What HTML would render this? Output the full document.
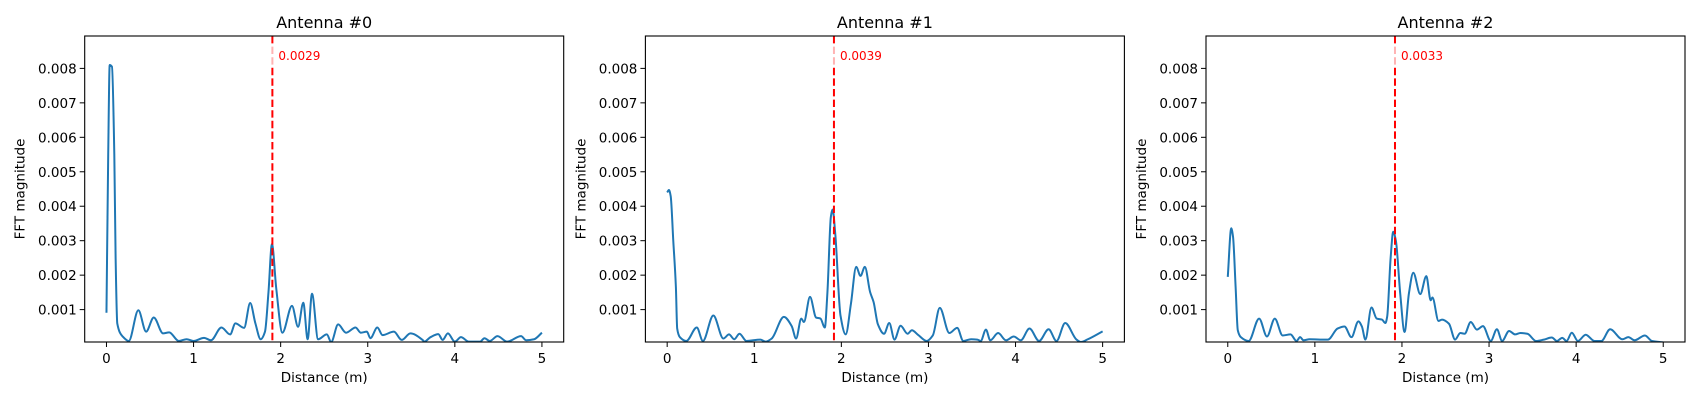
<!DOCTYPE html>
<html><head><meta charset="utf-8"><style>
body{margin:0;background:#fff;}
svg{display:block;font-family:"DejaVu Sans","Liberation Sans",sans-serif;}
</style></head><body>
<svg id="fig" width="1698" height="400" viewBox="0 0 1698 400" xmlns="http://www.w3.org/2000/svg"></svg>
<script>
const titles = ["Antenna #0","Antenna #1","Antenna #2"];
const peakX = [1.905, 1.915, 1.92];
const peakLabels = ["0.0029","0.0039","0.0033"];
const xTicks = [0,1,2,3,4,5];
const yTicks = [0.001,0.002,0.003,0.004,0.005,0.006,0.007,0.008];
const yTickLabels = ["0.001","0.002","0.003","0.004","0.005","0.006","0.007","0.008"];
const dist0 = [0,0.02,0.037,0.063,0.09,0.105,0.124,0.19,0.256,0.366,0.455,0.543,0.65,0.72,0.83,0.92,1.0,1.12,1.2,1.32,1.42,1.48,1.58,1.65,1.71,1.77,1.82,1.86,1.9,1.95,2.02,2.13,2.2,2.26,2.31,2.36,2.43,2.53,2.58,2.66,2.75,2.86,2.92,2.99,3.03,3.11,3.17,3.3,3.39,3.49,3.63,3.65,3.72,3.81,3.86,3.92,4.0,4.07,4.16,4.29,4.34,4.4,4.49,4.6,4.76,4.82,4.91,5.0];
const mag0 = [0.00091,0.0055,0.0081,0.00805,0.0055,0.0025,0.0006,0.00021,0.00009,0.00098,0.00036,0.00077,0.00031,0.00034,0.00009,0.00014,0.00009,0.00018,0.00011,0.00048,0.00028,0.0006,0.00047,0.00119,0.0006,0.00014,0.00036,0.0015,0.0029,0.0016,0.00033,0.00111,0.0005,0.0012,0.00014,0.00146,0.00014,0.00028,0.00006,0.00057,0.00033,0.00048,0.00033,0.00036,0.00017,0.00048,0.00026,0.00036,0.00012,0.00031,0.00012,0.00007,0.0002,0.00029,0.00012,0.00031,0.00007,0.0002,0.00007,0.00007,0.00017,0.00009,0.00023,0.00007,0.00023,0.00011,0.00014,0.00033];
const dist1 = [0,0.02,0.04,0.07,0.1,0.115,0.146,0.22,0.34,0.41,0.53,0.645,0.71,0.77,0.83,0.91,1.07,1.13,1.2,1.34,1.43,1.48,1.54,1.57,1.64,1.71,1.76,1.81,1.84,1.88,1.9,1.93,1.99,2.05,2.11,2.17,2.22,2.27,2.33,2.37,2.42,2.49,2.55,2.61,2.68,2.76,2.81,2.88,2.98,3.05,3.13,3.24,3.33,3.4,3.49,3.56,3.6,3.66,3.71,3.8,3.89,3.98,4.06,4.16,4.27,4.38,4.47,4.57,4.7,4.75,4.83,5.0];
const mag1 = [0.0044,0.00447,0.0043,0.003,0.00166,0.00045,0.0002,0.00009,0.00048,0.00009,0.00083,0.00016,0.00028,0.00014,0.0003,0.00009,0.00013,0.00007,0.00016,0.00079,0.00052,0.00016,0.00074,0.00064,0.00137,0.00077,0.00074,0.00048,0.0015,0.0037,0.0039,0.0032,0.00083,0.00028,0.00117,0.00224,0.00198,0.00224,0.00151,0.00122,0.00057,0.0003,0.00061,0.00013,0.00053,0.0003,0.0004,0.00027,0.00009,0.00025,0.00105,0.00032,0.00047,0.00009,0.00014,0.00013,0.00009,0.00042,0.00011,0.00032,0.00011,0.00022,0.00011,0.00045,0.00009,0.00043,0.00009,0.00061,0.00013,0.00006,0.00014,0.00037];
const dist2 = [0,0.04,0.06,0.09,0.115,0.15,0.24,0.36,0.45,0.54,0.63,0.72,0.79,0.83,0.87,0.94,1.06,1.15,1.26,1.34,1.42,1.5,1.54,1.58,1.65,1.71,1.77,1.81,1.83,1.87,1.9,1.93,1.98,2.03,2.08,2.13,2.21,2.28,2.33,2.35,2.42,2.46,2.54,2.61,2.67,2.72,2.79,2.86,2.93,3.02,3.09,3.15,3.23,3.3,3.36,3.44,3.54,3.63,3.72,3.78,3.84,3.89,3.95,4.02,4.11,4.21,4.29,4.39,4.53,4.6,4.67,4.79,4.87,5.0];
const mag2 = [0.00195,0.00336,0.00312,0.00166,0.0004,0.0002,0.00009,0.00074,0.00022,0.00074,0.00025,0.00028,0.00009,0.0002,0.00011,0.00014,0.00013,0.00013,0.00045,0.00051,0.0002,0.00066,0.00051,0.00013,0.00106,0.00074,0.00071,0.00061,0.00079,0.0025,0.00326,0.003,0.00147,0.00035,0.00147,0.00207,0.00145,0.00197,0.00127,0.00135,0.00067,0.00071,0.00059,0.00013,0.00032,0.0003,0.00064,0.00042,0.00052,0.00009,0.00043,0.00009,0.00038,0.00028,0.00032,0.0003,0.00009,0.00013,0.00019,0.00009,0.00018,0.00009,0.00033,0.00009,0.00027,0.00009,0.00009,0.00043,0.00014,0.0002,0.00011,0.00025,0.00009,0.00005];
const dists = [dist0, dist1, dist2];
const mags = [mag0, mag1, mag2];

const NS = "http://www.w3.org/2000/svg";
const svg = document.getElementById("fig");
const axLeft = [84.7, 645.4, 1206];
const axW = 479, axTop = 36, axH = 306;
const xMin = -0.25, xMax = 5.25, yMin = 0.00006, yMax = 0.00894;
function mk(tag, attrs, parent){const e=document.createElementNS(NS,tag);for(const k in attrs)e.setAttribute(k,attrs[k]);(parent||svg).appendChild(e);return e;}

function monotonePath(pts){
  const n=pts.length, dx=[], s=[], m=new Array(n);
  for(let i=0;i<n-1;i++){dx[i]=pts[i+1][0]-pts[i][0]; s[i]=(pts[i+1][1]-pts[i][1])/dx[i];}
  m[0]=s[0]; m[n-1]=s[n-2];
  for(let i=1;i<n-1;i++){
    if(s[i-1]*s[i]<=0) m[i]=0;
    else { const w1=2*dx[i]+dx[i-1], w2=dx[i]+2*dx[i-1]; m[i]=(w1+w2)/(w1/s[i-1]+w2/s[i]); }
  }
  let d="M"+pts[0][0].toFixed(2)+","+pts[0][1].toFixed(2);
  for(let i=0;i<n-1;i++){
    const h=dx[i]/3;
    d+=" C"+(pts[i][0]+h).toFixed(2)+","+(pts[i][1]+m[i]*h).toFixed(2)+" "+(pts[i+1][0]-h).toFixed(2)+","+(pts[i+1][1]-m[i+1]*h).toFixed(2)+" "+pts[i+1][0].toFixed(2)+","+pts[i+1][1].toFixed(2);
  }
  return d;
}

for (let p=0;p<3;p++){
  const L = axLeft[p];
  const sx = v => L + (v - xMin)/(xMax - xMin)*axW;
  const sy = v => axTop + (yMax - v)/(yMax - yMin)*axH;
  const g = mk("g",{});
  
  
  const cp = mk("clipPath",{id:"clip"+p},g);
  mk("rect",{x:L,y:axTop,width:axW,height:axH},cp);
  const xs = dists[p], ys = mags[p];
  const pts = xs.map((x,i)=>[sx(x), sy(ys[i])]);
  const line = mk("path",{d:monotonePath(pts),fill:"none",stroke:"#1f77b4","stroke-width":2,"stroke-linejoin":"round","clip-path":"url(#clip"+p+")"},g);
  
  
  const px = sx(peakX[p]);
  const vl = mk("line",{x1:px,y1:axTop,x2:px,y2:axTop+axH,stroke:"#ff0000","stroke-width":2,"stroke-dasharray":"7.4,3.2"},g);
  
  
  mk("rect",{x:px-1.5,y:46,width:46,height:19,fill:"#fff","fill-opacity":0.7},g);
  const pt = mk("text",{x:px+6,y:60,fill:"#ff0000","font-size":"12px"},g);
  pt.textContent = peakLabels[p];
  
  
  const fr = mk("rect",{x:L,y:axTop,width:axW,height:axH,fill:"none",stroke:"#000","stroke-width":1.1},g);
  
  
  xTicks.forEach(t=>{
    const x=sx(t);
    mk("line",{x1:x,y1:axTop+axH,x2:x,y2:axTop+axH+5,stroke:"#000","stroke-width":1},g);
    const tt=mk("text",{x:x,y:axTop+axH+21,"text-anchor":"middle","font-size":"13.5px",fill:"#000"},g);
    tt.textContent=String(t);
    
    
  });
  yTicks.forEach((t,i)=>{
    const y=sy(t);
    mk("line",{x1:L-5,y1:y,x2:L,y2:y,stroke:"#000","stroke-width":1},g);
    const tt=mk("text",{x:L-8,y:y+5,"text-anchor":"end","font-size":"13.5px",fill:"#000"},g);
    tt.textContent=yTickLabels[i];
    
    
  });
  const ti = mk("text",{x:L+axW/2,y:28,"text-anchor":"middle","font-size":"16px",fill:"#000"},g);
  ti.textContent = titles[p];
  
  
  const xl = mk("text",{x:L+axW/2,y:382,"text-anchor":"middle","font-size":"13.5px",fill:"#000"},g);
  xl.textContent = "Distance (m)";
  
  
  const yx = L-60;
  const yl = mk("text",{x:yx,y:189,"text-anchor":"middle","font-size":"13.5px",fill:"#000",transform:"rotate(-90 "+yx+" 189)"},g);
  yl.textContent = "FFT magnitude";
  
  
}
</script>
</body></html>
